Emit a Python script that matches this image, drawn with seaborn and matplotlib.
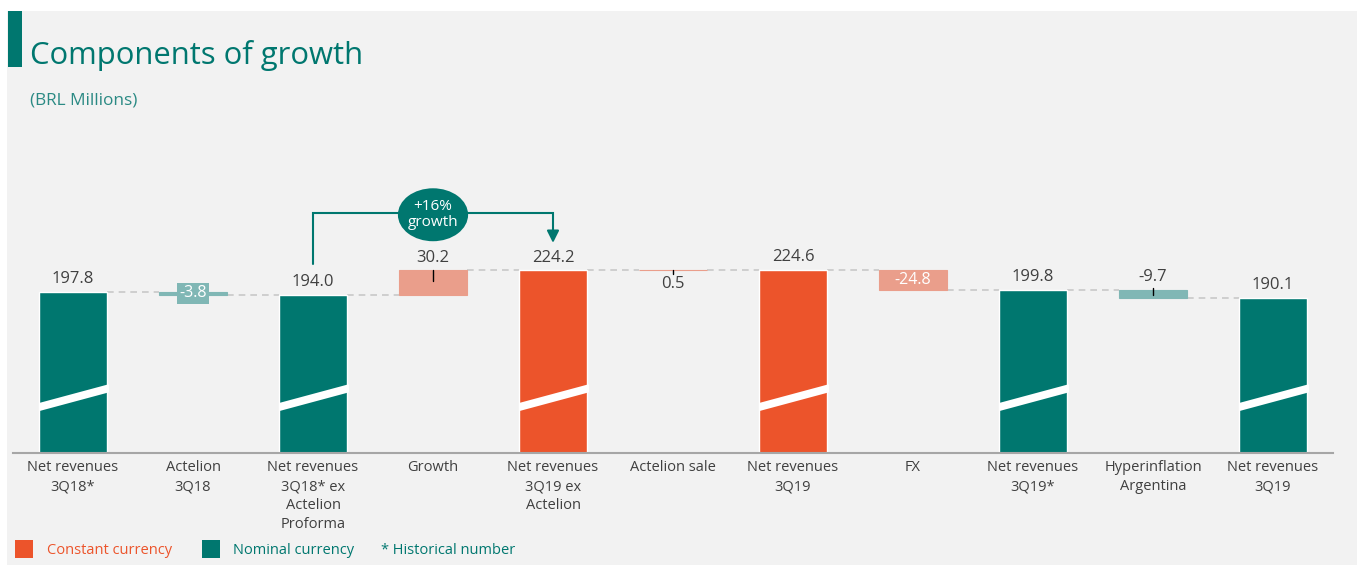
import matplotlib
matplotlib.use("Agg")
import matplotlib.pyplot as plt
from matplotlib.patches import Rectangle, Polygon, Ellipse
import numpy as np
import pandas as pd
import seaborn as sns

# ---- data -------------------------------------------------------------
categories = [
    "Net revenues\n3Q18*", "Actelion\n3Q18", "Net revenues\n3Q18* ex\nActelion\nProforma",
    "Growth", "Net revenues\n3Q19 ex\nActelion", "Actelion sale", "Net revenues\n3Q19",
    "FX", "Net revenues\n3Q19*", "Hyperinflation\nArgentina", "Net revenues\n3Q19",
]
values = [197.8, -3.8, 194.0, 30.2, 224.2, 0.5, 224.6, -24.8, 199.8, -9.7, 190.1]
is_total = [True, False, True, False, True, False, True, False, True, False, True]
currency = ["nominal", "nominal", "nominal", "constant", "constant", "constant",
            "constant", "constant", "nominal", "nominal", "nominal"]
value_labels = ["197.8", "-3.8", "194.0", "30.2", "224.2", "0.5", "224.6",
                "-24.8", "199.8", "-9.7", "190.1"]
legend_labels = ["Constant currency", "Nominal currency", "* Historical number"]
title = "Components of growth"
subtitle = "(BRL Millions)"
growth_badge = "+16%\ngrowth"

# ---- style ------------------------------------------------------------
TEAL = "#00776f"
ORANGE = "#ec542b"
LIGHT_TEAL = "#80b7b5"
SALMON = "#ea9e8b"
TEXT = "#404040"
PANEL = "#f2f2f2"
DASH = "#c8c8c8"

sns.set_theme(style="white")
plt.rcParams["font.family"] = ["Open Sans", "DejaVu Sans"]

W, H = 1364, 567
fig = plt.figure(figsize=(W / 100, H / 100), dpi=100)
fig.patch.set_facecolor("white")

def fx(px):
    return px / W

def fy(py):
    return 1 - py / H

# light grey panel and title accent (behind the axes)
fig.patches.append(Rectangle((fx(7), fy(565)), fx(1357 - 7), (565 - 11) / H,
                             transform=fig.transFigure, facecolor=PANEL,
                             edgecolor="none", zorder=-10))
fig.patches.append(Rectangle((fx(8), fy(67)), fx(14), 56 / H,
                             transform=fig.transFigure, facecolor=TEAL,
                             edgecolor="none", zorder=-5))
fig.text(fx(30), fy(64), title, fontsize=22.3, color=TEAL, va="baseline", ha="left")
fig.text(fx(30), fy(105), subtitle, fontsize=12.4, color="#2b8a84", va="baseline", ha="left")

ax = fig.add_axes([fx(13), (H - 453) / H, fx(1333 - 13), 303 / H])
ax.set_facecolor("none")

# ---- compute waterfall geometry ----------------------------------------
bottoms, heights, levels = [], [], []
running = 0.0
for v, tot in zip(values, is_total):
    if tot:
        bottoms.append(0.0)
        heights.append(v)
        running = v
    else:
        start = running
        running = start + v
        bottoms.append(min(start, running))
        heights.append(abs(v))
    levels.append(running)

xs = np.arange(len(categories))
df = pd.DataFrame({
    "slot": xs,
    "total": [v if t else np.nan for v, t in zip(values, is_total)],
    "currency": currency,
})

bar_w = 0.56

# totals through seaborn (one slot per step of the waterfall)
sns.barplot(data=df, x="slot", y="total", hue="currency",
            palette={"nominal": TEAL, "constant": ORANGE}, dodge=False,
            width=bar_w, saturation=1, legend=False, ax=ax, zorder=2)

# floating change bars
for i, tot in enumerate(is_total):
    if tot:
        continue
    col = LIGHT_TEAL if currency[i] == "nominal" else SALMON
    ax.bar(xs[i], heights[i], bottom=bottoms[i], width=bar_w, color=col,
           edgecolor=col, linewidth=0.8, zorder=2)

# dashed connectors
for i in range(len(categories) - 1):
    ax.plot([xs[i] + bar_w / 2, xs[i + 1] - bar_w / 2], [levels[i], levels[i]],
            color=DASH, lw=1.2, ls=(0, (4, 3)), zorder=1)

# axis-break slashes on the total bars
for i, tot in enumerate(is_total):
    if not tot:
        continue
    l, r = xs[i] - bar_w / 2, xs[i] + bar_w / 2 + 0.02
    ax.add_patch(Polygon([(l, 51.5), (r, 74.5), (r, 84.5), (l, 61.5)],
                         closed=True, facecolor="white", edgecolor="none", zorder=3))

# value labels
for i, (v, tot) in enumerate(zip(values, is_total)):
    top = bottoms[i] + heights[i]
    lab = value_labels[i]
    if tot:
        ax.annotate(lab, (xs[i], top), xytext=(0, 3.5), textcoords="offset points",
                    ha="center", va="bottom", fontsize=12, color=TEXT, zorder=4)
    elif categories[i] == "Actelion\n3Q18":
        ax.text(xs[i], bottoms[i] + heights[i] / 2, lab, ha="center", va="center",
                fontsize=11.5, color="white", zorder=4,
                bbox=dict(boxstyle="square,pad=0.15", facecolor=LIGHT_TEAL, edgecolor="none"))
    elif categories[i] == "FX":
        ax.text(xs[i], bottoms[i] + heights[i] / 2, lab, ha="center", va="center",
                fontsize=11.5, color="white", zorder=4)
    elif categories[i] == "Actelion sale":
        ax.plot([xs[i], xs[i]], [top, top - 4.5], color="black", lw=1, zorder=4)
        ax.annotate(lab, (xs[i], top), xytext=(0, -4), textcoords="offset points",
                    ha="center", va="top", fontsize=12, color=TEXT, zorder=4)
    else:
        if categories[i] == "Growth":
            ax.plot([xs[i], xs[i]], [top, top - 13], color="black", lw=1, zorder=4)
        else:
            ax.plot([xs[i], xs[i]], [top + 3, top - 6], color="black", lw=1, zorder=4)
        ax.annotate(lab, (xs[i], top), xytext=(0, 3.5), textcoords="offset points",
                    ha="center", va="bottom", fontsize=12, color=TEXT, zorder=4)

# growth bracket with badge
y_br = 294.5
ax.plot([xs[2], xs[2], xs[4], xs[4]], [232, y_br, y_br, 268], color=TEAL, lw=1.5,
        zorder=4, solid_joinstyle="miter")
ax.annotate("", xy=(xs[4], 258), xytext=(xs[4], 270),
            arrowprops=dict(arrowstyle="-|>,head_length=0.6,head_width=0.3",
                            color=TEAL, lw=1.5, shrinkA=0, shrinkB=0), zorder=4)
ax.add_patch(Ellipse((xs[3], 292.5), 0.585, 65, facecolor=TEAL, edgecolor="none", zorder=5))
ax.text(xs[3], 292.5, growth_badge, ha="center", va="center", fontsize=11,
        color="white", linespacing=1.1, zorder=6)

# axes styling
ax.set_xlim(-0.5, len(categories) - 0.5)
ax.set_ylim(0, 372)
ax.set_xlabel("")
ax.set_ylabel("")
ax.set_yticks([])
ax.set_xticks(xs)
ax.set_xticklabels(categories, fontsize=10.5, color=TEXT, linespacing=1.37, va="top")
ax.tick_params(axis="x", length=0, pad=5)
for s in ["top", "right", "left"]:
    ax.spines[s].set_visible(False)
ax.spines["bottom"].set_color("#a6a6a6")
ax.spines["bottom"].set_linewidth(1.5)
ax.spines["bottom"].set_zorder(3)

# legend row
fig.patches.append(Rectangle((fx(15), fy(558)), fx(18), 18 / H, transform=fig.transFigure,
                             facecolor=ORANGE, edgecolor="none", zorder=2))
fig.text(fx(47), fy(550.5), legend_labels[0], fontsize=10.5, color=ORANGE, va="center")
fig.patches.append(Rectangle((fx(202), fy(558)), fx(18), 18 / H, transform=fig.transFigure,
                             facecolor=TEAL, edgecolor="none", zorder=2))
fig.text(fx(233), fy(550.5), legend_labels[1], fontsize=10.5, color=TEAL, va="center")
fig.text(fx(381), fy(550.5), legend_labels[2], fontsize=10.5, color=TEAL, va="center")

fig.savefig("out.png", dpi=100, facecolor=fig.get_facecolor())
